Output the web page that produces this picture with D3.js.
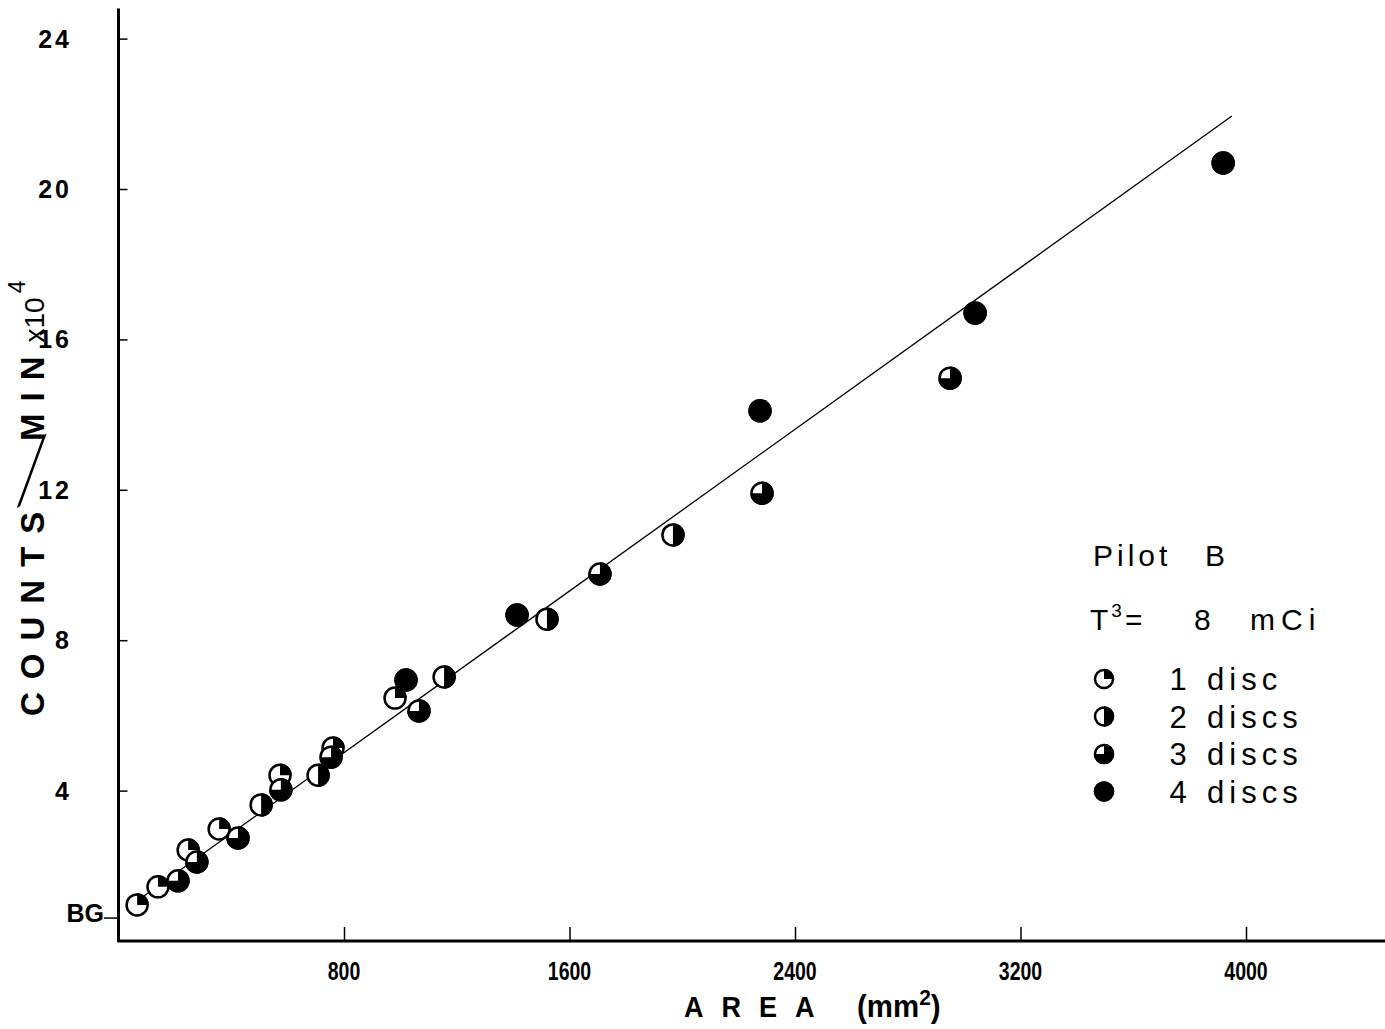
<!DOCTYPE html>
<html><head><meta charset="utf-8">
<script src="https://cdn.jsdelivr.net/npm/d3@7"></script>
<style>
body{margin:0;background:#fff;}
svg{display:block;}
text{font-family:"Liberation Sans",Arial,sans-serif;fill:#000;}
</style></head>
<body>
<svg id="chart" width="1385" height="1029"></svg>
<script>
// Data
const areas  = [66,140,211,247,278,357,424,506,573,576,708,761,754,981,1020,1066,1155,1414,1520,1708,1967,2276,2283,2950,3039,3919];
const counts = [0.96,1.44,1.60,2.42,2.10,2.98,2.74,3.62,4.41,4.02,4.41,5.13,4.89,6.46,6.94,6.12,7.02,8.67,8.56,9.76,10.80,14.10,11.91,14.97,16.70,20.69];
const discs  = [1,1,3,1,3,1,3,2,1,3,2,1,3,1,4,3,2,4,2,3,2,4,3,3,4,4];
const xTicks = [800,1600,2400,3200,4000];
const yTicks = [4,8,12,16,20,24];
const fitLine = [[30,0.87],[3950,21.94]];
const bgLevel = 0.61;
const legendItems = [{n:1,num:"1",word:"disc"},{n:2,num:"2",word:"discs"},{n:3,num:"3",word:"discs"},{n:4,num:"4",word:"discs"}];

const svg = d3.select("#chart");
const x = d3.scaleLinear().domain([0,4500]).range([118.5,118.5+4500*225.5/800]);
const y = d3.scaleLinear().domain([0,25]).range([941,941-25*37.6]);

// axes lines
svg.append("line").attr("x1",x(0)).attr("x2",x(0)).attr("y1",y(0)+1).attr("y2",y(24.8))
  .attr("stroke","#000").attr("stroke-width",3);
svg.append("line").attr("x1",x(0)-1).attr("x2",1385).attr("y1",y(0)).attr("y2",y(0))
  .attr("stroke","#000").attr("stroke-width",3);

// y ticks
const yAxis = d3.axisRight(y).tickValues(yTicks).tickSize(9).tickFormat("");
const gy = svg.append("g").attr("transform",`translate(${x(0)},0)`).call(yAxis);
gy.select(".domain").remove();
gy.selectAll(".tick line").attr("stroke","#000").attr("stroke-width",1.5);
svg.selectAll(".ylab").data(yTicks).enter().append("text")
  .attr("x",72).attr("y",d=>y(d)+9).attr("text-anchor","end")
  .style("font-size","25px").style("font-weight","bold").style("letter-spacing","3px")
  .text(d=>d);

// x ticks
const xAxis = d3.axisTop(x).tickValues(xTicks).tickSize(14).tickFormat("");
const gx = svg.append("g").attr("transform",`translate(0,${y(0)})`).call(xAxis);
gx.select(".domain").remove();
gx.selectAll(".tick line").attr("stroke","#000").attr("stroke-width",1.5);
svg.selectAll(".xlab").data(xTicks).enter().append("text")
  .attr("transform",d=>`translate(${x(d)},${980}) scale(0.78,1)`).attr("text-anchor","middle")
  .style("font-size","25px").style("font-weight","bold")
  .text(d=>d);

// BG marker
svg.append("line").attr("x1",104).attr("x2",x(0)).attr("y1",y(bgLevel)).attr("y2",y(bgLevel))
  .attr("stroke","#000").attr("stroke-width",1.5);
svg.append("text").attr("x",104).attr("y",y(bgLevel)+4).attr("text-anchor","end")
  .style("font-size","25px").style("font-weight","bold").text("BG");

// y axis title (COUNTS, long thin slash, MIN x10^4)
svg.append("text").attr("transform",`translate(44,716) rotate(-90)`)
  .style("font-size","33px").style("font-weight","bold").style("letter-spacing","13px").text("COUNTS");
svg.append("text").attr("transform",`translate(17,507) rotate(-68.2) scale(3,1) rotate(69.6)`)
  .style("font-size","34px").text("/");
const yt = svg.append("text").attr("transform",`translate(44,441) rotate(-90)`)
  .style("font-size","33px").style("font-weight","bold").style("letter-spacing","12px");
yt.append("tspan").text("MIN");
yt.append("tspan").attr("dx",2).style("font-size","28px").style("letter-spacing","0px").style("font-weight","normal").text("x10");
yt.append("tspan").attr("dy",-19).attr("dx",4).style("font-size","23px").style("letter-spacing","0px").style("font-weight","normal").text("4");

svg.append("text").attr("transform","translate(684,1017) scale(0.9,1)")
  .style("font-size","30px").style("font-weight","bold").style("letter-spacing","20px").text("AREA");
const mm = svg.append("text").attr("transform","translate(857,1017) scale(0.95,1)")
  .style("font-size","31px").style("font-weight","bold");
mm.append("tspan").text("(mm");
mm.append("tspan").attr("dy",-12).style("font-size","22px").text("2");
mm.append("tspan").attr("dy",12).text(")");

// fit line
const line = d3.line().x(d=>x(d[0])).y(d=>y(d[1]));
svg.append("path").attr("d",line(fitLine)).attr("fill","none").attr("stroke","#000").attr("stroke-width",1.3);

// marker drawing
function drawMarker(g, n, r){
  g.append("circle").attr("r",r).attr("fill","#fff").attr("stroke","#000").attr("stroke-width",2.5);
  if(n>=4){
    g.append("circle").attr("r",r+1.2).attr("fill","#000");
  } else {
    const arc = d3.arc().innerRadius(0).outerRadius(r+1.2).startAngle(0).endAngle(n*Math.PI/2);
    g.append("path").attr("d",arc()).attr("fill","#000");
  }
}
const pts = areas.map((a,i)=>({a, c:counts[i], n:discs[i]}));
pts.forEach(p=>{
  const g = svg.append("g").attr("transform",`translate(${x(p.a)},${y(p.c)})`);
  drawMarker(g,p.n,10.5);
});

// legend
const pb = svg.append("text").attr("y",566).style("font-size","30px").style("letter-spacing","4px");
pb.append("tspan").attr("x",1093).text("Pilot");
pb.append("tspan").attr("x",1205).text("B");
const t3 = svg.append("text").attr("y",630).style("font-size","30px").style("letter-spacing","3px");
t3.append("tspan").attr("x",1090).text("T");
t3.append("tspan").attr("dy",-13).style("font-size","19px").text("3");
t3.append("tspan").attr("dy",13).text("=");
t3.append("tspan").attr("x",1194).text("8");
t3.append("tspan").attr("x",1250).style("letter-spacing","6px").text("mCi");
const lg = svg.selectAll(".leg").data(legendItems).enter().append("g")
  .attr("transform",(d,i)=>`translate(1104,${679+i*37.5})`);
lg.each(function(d){ drawMarker(d3.select(this), d.n, 9); });
lg.append("text").attr("x",74).attr("y",11).attr("text-anchor","middle").style("font-size","31px").text(d=>d.num);
lg.append("text").attr("x",103).attr("y",11).style("font-size","31px").style("letter-spacing","5px").text(d=>d.word);
</script>
</body></html>
